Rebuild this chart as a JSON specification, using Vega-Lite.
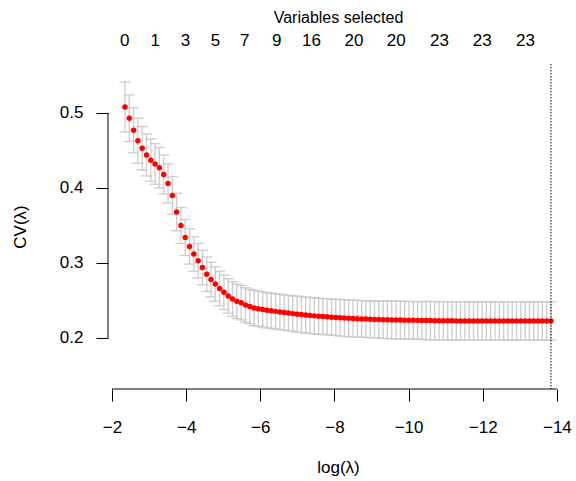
{
"$schema": "https://vega.github.io/schema/vega-lite/v6.json",
"width": 460, "height": 325,
"autosize": {"type": "none"},
"padding": {"left": 108, "top": 64, "right": 8, "bottom": 92},
"config": {"view": {"stroke": null}, "font": "Liberation Sans",
  "axis": {"labelColor": "#000000", "titleColor": "#000000", "tickColor": "#000000", "grid": false, "domain": false, "labelFontSize": 17, "titleFontSize": 17, "titleFontWeight": "normal", "labelOverlap": false, "labelFlush": false}},
"datasets": {"cv": [
{"x":-2.350,"cv":0.508,"lo":0.4747,"hi":0.5413},
{"x":-2.466,"cv":0.493,"lo":0.462,"hi":0.524},
{"x":-2.582,"cv":0.477,"lo":0.447,"hi":0.507},
{"x":-2.698,"cv":0.463,"lo":0.433,"hi":0.493},
{"x":-2.814,"cv":0.453,"lo":0.424,"hi":0.482},
{"x":-2.930,"cv":0.444,"lo":0.416,"hi":0.472},
{"x":-3.046,"cv":0.437,"lo":0.409,"hi":0.465},
{"x":-3.162,"cv":0.432,"lo":0.405,"hi":0.459},
{"x":-3.278,"cv":0.427,"lo":0.400,"hi":0.454},
{"x":-3.395,"cv":0.418,"lo":0.392,"hi":0.444},
{"x":-3.511,"cv":0.406,"lo":0.380,"hi":0.432},
{"x":-3.627,"cv":0.390,"lo":0.365,"hi":0.415},
{"x":-3.743,"cv":0.368,"lo":0.343,"hi":0.393},
{"x":-3.859,"cv":0.350,"lo":0.326,"hi":0.374},
{"x":-3.975,"cv":0.334,"lo":0.310,"hi":0.358},
{"x":-4.091,"cv":0.322,"lo":0.2985,"hi":0.3455},
{"x":-4.207,"cv":0.312,"lo":0.289,"hi":0.335},
{"x":-4.323,"cv":0.303,"lo":0.280,"hi":0.326},
{"x":-4.439,"cv":0.294,"lo":0.271,"hi":0.317},
{"x":-4.555,"cv":0.285,"lo":0.262,"hi":0.308},
{"x":-4.671,"cv":0.278,"lo":0.255,"hi":0.301},
{"x":-4.787,"cv":0.272,"lo":0.249,"hi":0.295},
{"x":-4.903,"cv":0.266,"lo":0.243,"hi":0.289},
{"x":-5.019,"cv":0.261,"lo":0.238,"hi":0.284},
{"x":-5.135,"cv":0.256,"lo":0.233,"hi":0.279},
{"x":-5.251,"cv":0.252,"lo":0.229,"hi":0.275},
{"x":-5.367,"cv":0.249,"lo":0.226,"hi":0.272},
{"x":-5.483,"cv":0.247,"lo":0.224,"hi":0.270},
{"x":-5.600,"cv":0.244,"lo":0.221,"hi":0.267},
{"x":-5.716,"cv":0.242,"lo":0.219,"hi":0.265},
{"x":-5.832,"cv":0.240,"lo":0.2165,"hi":0.2635},
{"x":-5.948,"cv":0.239,"lo":0.2155,"hi":0.2625},
{"x":-6.064,"cv":0.238,"lo":0.2145,"hi":0.2615},
{"x":-6.180,"cv":0.237,"lo":0.2135,"hi":0.2605},
{"x":-6.296,"cv":0.2362,"lo":0.2127,"hi":0.2597},
{"x":-6.412,"cv":0.2355,"lo":0.2120,"hi":0.2590},
{"x":-6.528,"cv":0.2348,"lo":0.2113,"hi":0.2583},
{"x":-6.644,"cv":0.2340,"lo":0.2105,"hi":0.2575},
{"x":-6.760,"cv":0.2332,"lo":0.2097,"hi":0.2567},
{"x":-6.876,"cv":0.2325,"lo":0.2090,"hi":0.2560},
{"x":-6.992,"cv":0.2318,"lo":0.2078,"hi":0.2558},
{"x":-7.108,"cv":0.2312,"lo":0.2072,"hi":0.2552},
{"x":-7.224,"cv":0.2306,"lo":0.2066,"hi":0.2546},
{"x":-7.340,"cv":0.2300,"lo":0.2060,"hi":0.2540},
{"x":-7.456,"cv":0.2295,"lo":0.2055,"hi":0.2535},
{"x":-7.573,"cv":0.2290,"lo":0.2050,"hi":0.2530},
{"x":-7.689,"cv":0.2286,"lo":0.2046,"hi":0.2526},
{"x":-7.805,"cv":0.2282,"lo":0.2042,"hi":0.2522},
{"x":-7.921,"cv":0.2278,"lo":0.2038,"hi":0.2518},
{"x":-8.037,"cv":0.2274,"lo":0.2034,"hi":0.2514},
{"x":-8.153,"cv":0.2270,"lo":0.2025,"hi":0.2515},
{"x":-8.269,"cv":0.2266,"lo":0.2021,"hi":0.2511},
{"x":-8.385,"cv":0.2263,"lo":0.2018,"hi":0.2508},
{"x":-8.501,"cv":0.2260,"lo":0.2015,"hi":0.2505},
{"x":-8.617,"cv":0.2257,"lo":0.2012,"hi":0.2502},
{"x":-8.733,"cv":0.2254,"lo":0.2009,"hi":0.2499},
{"x":-8.849,"cv":0.2252,"lo":0.2007,"hi":0.2497},
{"x":-8.965,"cv":0.2250,"lo":0.2005,"hi":0.2495},
{"x":-9.081,"cv":0.2248,"lo":0.2003,"hi":0.2493},
{"x":-9.197,"cv":0.2246,"lo":0.2001,"hi":0.2491},
{"x":-9.313,"cv":0.2244,"lo":0.1994,"hi":0.2494},
{"x":-9.429,"cv":0.2242,"lo":0.1992,"hi":0.2492},
{"x":-9.546,"cv":0.2241,"lo":0.1991,"hi":0.2491},
{"x":-9.662,"cv":0.2240,"lo":0.1990,"hi":0.2490},
{"x":-9.778,"cv":0.2239,"lo":0.1989,"hi":0.2489},
{"x":-9.894,"cv":0.2238,"lo":0.1988,"hi":0.2488},
{"x":-10.010,"cv":0.2237,"lo":0.1987,"hi":0.2487},
{"x":-10.126,"cv":0.2236,"lo":0.1986,"hi":0.2486},
{"x":-10.242,"cv":0.2235,"lo":0.1985,"hi":0.2485},
{"x":-10.358,"cv":0.2234,"lo":0.1984,"hi":0.2484},
{"x":-10.474,"cv":0.2233,"lo":0.1978,"hi":0.2488},
{"x":-10.590,"cv":0.2232,"lo":0.1977,"hi":0.2487},
{"x":-10.706,"cv":0.2231,"lo":0.1976,"hi":0.2486},
{"x":-10.822,"cv":0.2230,"lo":0.1975,"hi":0.2485},
{"x":-10.938,"cv":0.2230,"lo":0.1975,"hi":0.2485},
{"x":-11.054,"cv":0.2229,"lo":0.1974,"hi":0.2484},
{"x":-11.170,"cv":0.2229,"lo":0.1974,"hi":0.2484},
{"x":-11.286,"cv":0.2228,"lo":0.1973,"hi":0.2483},
{"x":-11.402,"cv":0.2228,"lo":0.1973,"hi":0.2483},
{"x":-11.519,"cv":0.2227,"lo":0.1972,"hi":0.2482},
{"x":-11.635,"cv":0.2227,"lo":0.1972,"hi":0.2482},
{"x":-11.751,"cv":0.2227,"lo":0.1972,"hi":0.2482},
{"x":-11.867,"cv":0.2227,"lo":0.1972,"hi":0.2482},
{"x":-11.983,"cv":0.2227,"lo":0.1972,"hi":0.2482},
{"x":-12.099,"cv":0.2227,"lo":0.1972,"hi":0.2482},
{"x":-12.215,"cv":0.2227,"lo":0.1972,"hi":0.2482},
{"x":-12.331,"cv":0.2227,"lo":0.1972,"hi":0.2482},
{"x":-12.447,"cv":0.2227,"lo":0.1972,"hi":0.2482},
{"x":-12.563,"cv":0.2227,"lo":0.1972,"hi":0.2482},
{"x":-12.679,"cv":0.2227,"lo":0.1972,"hi":0.2482},
{"x":-12.795,"cv":0.2227,"lo":0.1972,"hi":0.2482},
{"x":-12.911,"cv":0.2227,"lo":0.1972,"hi":0.2482},
{"x":-13.027,"cv":0.2227,"lo":0.1972,"hi":0.2482},
{"x":-13.143,"cv":0.2227,"lo":0.1972,"hi":0.2482},
{"x":-13.259,"cv":0.2227,"lo":0.1972,"hi":0.2482},
{"x":-13.375,"cv":0.2227,"lo":0.1972,"hi":0.2482},
{"x":-13.492,"cv":0.2227,"lo":0.1972,"hi":0.2482},
{"x":-13.608,"cv":0.2227,"lo":0.1972,"hi":0.2482},
{"x":-13.724,"cv":0.2227,"lo":0.1972,"hi":0.2482},
{"x":-13.840,"cv":0.2227,"lo":0.1972,"hi":0.2482}
]},
"resolve": {"axis": {"x": "independent"}},
"layer": [
{"data": {"name": "cv"},
 "mark": {"type": "rule", "color": "#CCCCCC", "strokeWidth": 1.3},
 "encoding": {
  "x": {"field": "x", "type": "quantitative",
        "scale": {"domain": [-14.3, -1.892], "reverse": true, "nice": false, "zero": false},
        "axis": {"orient": "bottom", "values": [-2,-4,-6,-8,-10,-12,-14], "tickSize": 12, "labelPadding": 18, "title": "log(λ)", "titlePadding": 24}},
  "y": {"field": "lo", "type": "quantitative", "title": "CV(λ)",
        "scale": {"domain": [0.132, 0.5653], "nice": false, "zero": false},
        "axis": {"values": [0.2,0.3,0.4,0.5], "format": ".1f", "tickSize": 12, "labelPadding": 13, "title": "CV(λ)", "titlePadding": 30}},
  "y2": {"field": "hi"}
 }},
{"data": {"name": "cv"},
 "mark": {"type": "tick", "orient": "horizontal", "size": 11, "thickness": 1.3, "color": "#CCCCCC", "opacity": 1},
 "encoding": {
  "x": {"field": "x", "type": "quantitative", "axis": null},
  "y": {"field": "lo", "type": "quantitative", "title": "CV(λ)"}
 }},
{"data": {"name": "cv"},
 "mark": {"type": "tick", "orient": "horizontal", "size": 11, "thickness": 1.3, "color": "#CCCCCC", "opacity": 1},
 "encoding": {
  "x": {"field": "x", "type": "quantitative", "axis": null},
  "y": {"field": "hi", "type": "quantitative", "title": "CV(λ)"}
 }},
{"data": {"name": "cv"},
 "mark": {"type": "circle", "size": 30, "color": "#FF0000", "opacity": 1},
 "encoding": {
  "x": {"field": "x", "type": "quantitative",
        "axis": {"orient": "top", "values": [-2.329,-3.152,-3.969,-4.778,-5.568,-6.431,-7.367,-8.513,-9.654,-10.819,-11.973,-13.138],
                 "labelExpr": "['0','1','3','5','7','9','16','20','20','23','23','23'][indexof([-2.329,-3.152,-3.969,-4.778,-5.568,-6.431,-7.367,-8.513,-9.654,-10.819,-11.973,-13.138], datum.value)]",
                 "ticks": false, "labelPadding": 15, "title": "Variables selected", "titleFontSize": 16, "titlePadding": 6}},
  "y": {"field": "cv", "type": "quantitative", "title": "CV(λ)"}
 }},
{"data": {"values": [{}]},
 "mark": {"type": "rule", "color": "#000000", "strokeWidth": 1},
 "encoding": {"x": {"datum": -2, "type": "quantitative", "axis": null}, "x2": {"datum": -14}, "y": {"datum": 0.132, "type": "quantitative", "title": "CV(λ)"}}},
{"data": {"values": [{}]},
 "mark": {"type": "rule", "color": "#000000", "strokeWidth": 1},
 "encoding": {"x": {"datum": -1.892, "type": "quantitative", "axis": null}, "y": {"datum": 0.2, "type": "quantitative", "title": "CV(λ)"}, "y2": {"datum": 0.5}}},
{"data": {"values": [{}]},
 "mark": {"type": "rule", "color": "#000000", "strokeWidth": 1, "strokeDash": [1.5, 1.5]},
 "encoding": {"x": {"datum": -13.84, "type": "quantitative", "axis": null}}}
]
}
